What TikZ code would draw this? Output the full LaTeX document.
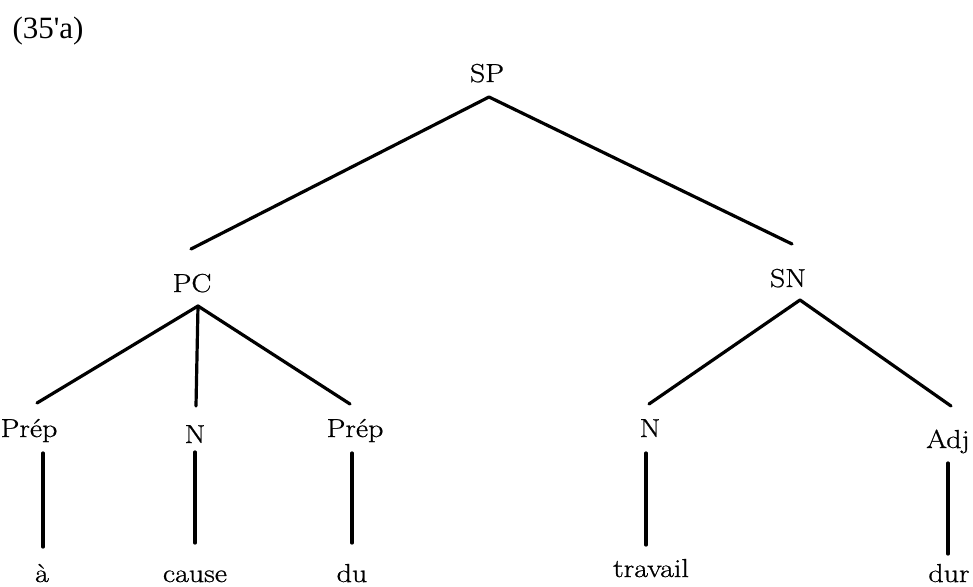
\documentclass[tikz,border=0pt]{standalone}
\usepackage{fontspec}
\newfontfamily\exfont{Liberation Serif}
\newfontfamily\labfont[FakeBold=0.8,FakeStretch=1.15]{Latin Modern Roman}
\begin{document}
\begin{tikzpicture}[x=1pt,y=-1pt,
  lab/.style={anchor=base,inner sep=0pt,font=\labfont\fontsize{26}{30}\selectfont},
  branch/.style={line width=3.2pt,line cap=round,line join=round}]
\useasboundingbox (0,0) rectangle (973,586);
% labels
\node[anchor=base,inner sep=0pt,font=\exfont\fontsize{31}{36}\selectfont] (ex) at (48,39) {(35'a)};
\node[lab] (SP) at (487,82) {SP};
\node[lab] (PC) at (192,292) {PC};
\node[lab] (SN) at (788,287) {SN};
\node[lab] (P1) at (29,437) {Prép};
\node[lab] (N1) at (195,443) {N};
\node[lab] (P2) at (355,437) {Prép};
\node[lab] (N2) at (650,437) {N};
\node[lab] (A) at (948,448) {Adj};
\node[lab] (w1) at (42,582) {à};
\node[lab] (w2) at (195,582) {cause};
\node[lab] (w3) at (352,582) {du};
\node[lab] (w4) at (651,577) {travail};
\node[lab] (w5) at (949,582) {dur};
% line ends
\coordinate (SPb) at (489,97);
\coordinate (PCt) at (191,249);
\coordinate (SNt) at (792,244);
\coordinate (PCb) at (198,306);
\coordinate (SNb) at (800,300);
\coordinate (P1t) at (37,403);
\coordinate (N1t) at (196,406);
\coordinate (P2t) at (350,404);
\coordinate (N2t) at (649,404);
\coordinate (At) at (951,406);
\coordinate (P1b) at (43,453);  \coordinate (w1t) at (43,547);
\coordinate (N1b) at (195,452); \coordinate (w2t) at (195,543);
\coordinate (P2b) at (352,453); \coordinate (w3t) at (352,543);
\coordinate (N2b) at (646,453); \coordinate (w4t) at (646,545);
\coordinate (Ab) at (948,463);  \coordinate (w5t) at (948,554);
% branches
\draw[branch] (PCt) -- (SPb) -- (SNt);
\draw[branch] (P1t) -- (PCb) -- (P2t);
\draw[branch] (PCb) -- (N1t);
\draw[branch] (N2t) -- (SNb) -- (At);
\draw[branch] (P1b) -- (w1t);
\draw[branch] (N1b) -- (w2t);
\draw[branch] (P2b) -- (w3t);
\draw[branch] (N2b) -- (w4t);
\draw[branch] (Ab) -- (w5t);
\end{tikzpicture}
\end{document}
